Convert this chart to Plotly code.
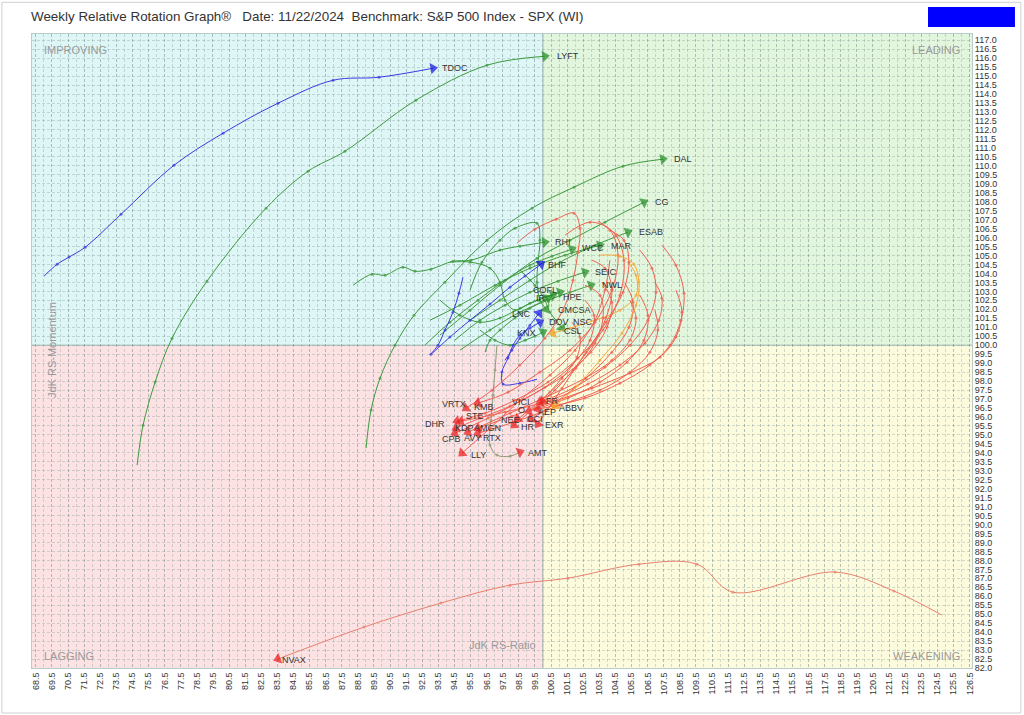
import plotly.graph_objects as go

# ---------------- data (JdK RS-Ratio, JdK RS-Momentum), oldest -> newest ----------------
TDOC_RATIO = [69.01, 69.82, 70.56, 71.56, 73.79, 77.08, 80.13, 83.54, 86.96, 89.82, 93.17]
TDOC_MOM = [103.85, 104.51, 104.91, 105.46, 107.30, 110.03, 111.82, 113.49, 114.77, 114.94, 115.44]

LYFT_RATIO = [74.79, 75.16, 75.91, 76.96, 79.13, 82.80, 85.41, 87.70, 92.11, 96.52, 100.12]
LYFT_MOM = [93.31, 95.54, 97.94, 100.39, 103.57, 107.64, 109.70, 110.81, 113.66, 115.61, 116.11]

DAL_RATIO = [89.01, 89.32, 89.88, 90.81, 91.99, 93.91, 96.52, 99.32, 101.93, 104.97, 107.45]
DAL_MOM = [94.26, 96.38, 98.16, 100.0, 101.67, 103.51, 105.85, 107.64, 108.81, 109.98, 110.37]

CG_RATIO = [93.60, 95.47, 97.33, 99.63, 101.68, 103.85, 106.27]
CG_MOM = [100.56, 101.95, 103.34, 104.85, 105.85, 106.86, 107.97]

ESAB_RATIO = [95.47, 97.33, 99.19, 101.06, 103.23, 105.28]
ESAB_MOM = [101.39, 102.51, 103.62, 104.63, 105.57, 106.30]

RHI_RATIO = [88.20, 89.38, 90.19, 91.30, 92.05, 93.04, 94.41, 95.53, 97.33, 98.57, 100.12]
RHI_MOM = [103.34, 103.96, 103.90, 104.35, 104.12, 104.24, 104.68, 104.74, 105.30, 105.52, 105.74]

WCC_RATIO = [92.67, 94.22, 95.96, 97.64, 99.19, 100.56, 101.80]
WCC_MOM = [100.0, 101.28, 102.51, 103.62, 104.46, 104.96, 105.35]

MAR_RATIO = [92.98, 94.84, 97.02, 99.19, 101.37, 103.54]
MAR_MOM = [101.39, 102.23, 103.34, 104.29, 105.02, 105.57]

BHF_RATIO = [95.03, 94.78, 94.41, 93.91, 93.48, 93.04, 94.22, 95.47, 96.71, 97.95, 98.88, 99.88]
BHF_MOM = [103.79, 102.90, 101.84, 100.84, 100.0, 99.50, 100.45, 101.39, 102.29, 103.23, 103.85, 104.52]

SEIC_RATIO = [94.53, 96.09, 97.64, 99.19, 100.93, 102.61]
SEIC_MOM = [100.28, 101.39, 102.23, 102.95, 103.57, 104.07]

NWL_RATIO = [94.84, 96.71, 98.57, 100.31, 101.68, 102.98]
NWL_MOM = [99.72, 100.84, 101.84, 102.51, 102.95, 103.34]

COFL_RATIO = [93.60, 94.84, 96.09, 97.33, 98.57, 99.69, 100.62]
COFL_MOM = [102.51, 101.67, 101.28, 101.51, 102.06, 102.51, 102.79]

IR_RATIO = [96.40, 96.71, 97.33, 98.26, 99.19, 100.31]
IR_MOM = [99.61, 100.28, 100.84, 101.51, 102.06, 102.62]

HPE_RATIO = [94.22, 95.47, 96.71, 97.33, 97.64, 98.26, 99.19, 100.12, 101.06]
HPE_MOM = [104.63, 104.63, 104.29, 103.51, 102.51, 101.95, 102.34, 102.68, 102.95]

CMCSA_RATIO = [95.47, 96.21, 97.33, 98.26, 99.63, 99.81, 99.69, 99.63, 99.81, 100.19]
CMCSA_MOM = [103.07, 104.63, 105.85, 106.52, 106.80, 105.85, 104.63, 103.51, 102.51, 102.01]

DOV_RATIO = [96.09, 97.02, 97.95, 98.88, 99.50, 100.0]
DOV_MOM = [100.84, 100.28, 100.0, 100.28, 100.50, 100.73]

CSL_RATIO = [98.57, 99.50, 100.12, 100.43, 100.81, 101.18]
CSL_MOM = [104.18, 103.34, 102.51, 101.84, 101.39, 100.95]

NSC_RATIO = [105.28, 105.78, 105.78, 104.78, 103.23, 101.68, 100.62]
NSC_MOM = [104.63, 103.90, 102.79, 101.95, 101.39, 100.95, 100.67]

LNC_RATIO = [97.64, 98.07, 98.57, 99.19, 99.75]
LNC_MOM = [99.16, 99.72, 100.39, 101.11, 101.78]

KNX_RATIO = [99.63, 98.57, 97.52, 97.45, 97.83, 98.14, 98.57, 99.19, 99.81]
KNX_MOM = [98.10, 97.88, 97.83, 98.50, 99.28, 100.0, 100.56, 100.95, 101.28]

VRTX_RATIO = [98.39, 99.50, 100.81, 101.93, 102.30, 102.17, 101.86, 101.24, 100.12, 98.57, 96.83, 95.22]
VRTX_MOM = [105.69, 106.47, 107.02, 107.36, 106.52, 105.18, 103.62, 101.95, 100.39, 98.89, 97.49, 96.49]

KMB_RATIO = [101.37, 102.92, 104.16, 104.66, 104.28, 103.23, 101.68, 99.81, 97.83, 95.96]
KMB_MOM = [106.13, 106.86, 106.41, 105.02, 103.07, 101.28, 99.72, 98.50, 97.38, 96.77]

DHR_RATIO = [103.42, 104.53, 105.03, 104.78, 103.73, 102.17, 100.31, 98.26, 96.40, 94.66]
DHR_MOM = [106.91, 106.13, 104.74, 102.79, 100.84, 99.28, 97.94, 96.93, 96.21, 95.76]

VICI_RATIO = [106.02, 106.77, 107.02, 106.52, 105.40, 103.85, 101.99, 99.81]
VICI_MOM = [105.30, 104.29, 102.95, 101.39, 100.0, 98.77, 97.66, 96.82]

FR_RATIO = [103.04, 103.85, 104.28, 103.91, 103.04, 101.86, 100.75, 100.0]
FR_MOM = [104.74, 104.29, 103.07, 101.51, 100.0, 98.61, 97.49, 96.88]

ABBV_RATIO = [103.54, 104.78, 105.65, 105.96, 105.78, 104.91, 103.54, 102.17, 100.75]
ABBV_MOM = [105.02, 104.96, 104.51, 103.51, 102.23, 100.67, 99.16, 97.77, 96.60]

O_RATIO = [106.02, 106.52, 106.27, 105.22, 103.54, 101.55, 99.13]
O_MOM = [102.79, 101.67, 100.28, 99.05, 97.94, 97.05, 96.32]

AEP_RATIO = [107.39, 108.26, 108.76, 108.57, 107.89, 106.64, 104.78, 102.61, 99.69]
AEP_MOM = [105.57, 104.46, 102.90, 101.39, 100.0, 98.89, 97.88, 97.05, 96.43]

STE_RATIO = [106.95, 107.39, 107.20, 106.33, 104.78, 102.79, 100.43, 97.64, 94.91]
STE_MOM = [103.51, 102.62, 101.39, 100.11, 98.89, 97.83, 96.93, 96.27, 95.76]

NEE_RATIO = [102.61, 103.54, 103.73, 103.23, 102.05, 100.43, 98.45]
NEE_MOM = [103.34, 102.79, 101.51, 100.11, 98.72, 97.38, 95.88]

CCI_RATIO = [105.09, 105.59, 105.34, 104.28, 102.67, 100.81, 99.25]
CCI_MOM = [103.46, 102.40, 101.0, 99.61, 98.16, 96.82, 95.88]

HR_RATIO = [101.80, 102.30, 102.11, 101.18, 99.81, 98.20]
HR_MOM = [101.28, 100.45, 99.33, 98.16, 96.82, 95.54]

EXR_RATIO = [104.16, 105.03, 105.34, 104.97, 103.91, 102.67, 101.18, 99.69]
EXR_MOM = [106.41, 105.85, 104.63, 102.95, 101.28, 99.61, 97.60, 95.60]

AMGN_RATIO = [108.26, 108.63, 108.26, 107.27, 105.40, 103.04, 100.56, 98.07, 95.96]
AMGN_MOM = [103.07, 101.84, 100.45, 99.33, 98.44, 97.60, 96.82, 96.04, 95.37]

KDP_RATIO = [102.61, 103.17, 102.92, 101.80, 100.12, 97.95, 96.09, 94.60]
KDP_MOM = [102.51, 101.67, 100.28, 98.89, 97.66, 96.60, 95.93, 95.37]

CPB_RATIO = [103.66, 104.28, 103.98, 102.98, 101.18, 98.82, 96.58, 94.53]
CPB_MOM = [103.51, 102.40, 101.0, 99.61, 98.22, 96.99, 95.93, 95.09]

AVY_RATIO = [105.40, 105.78, 105.40, 104.28, 102.61, 100.43, 97.95, 95.34]
AVY_MOM = [102.51, 101.51, 100.28, 99.16, 98.16, 97.21, 96.21, 95.15]

RTX_RATIO = [106.95, 107.14, 106.64, 105.40, 103.54, 101.06, 98.57, 95.96]
RTX_MOM = [101.95, 100.84, 99.61, 98.49, 97.49, 96.66, 95.82, 95.09]

LLY_RATIO = [104.16, 103.85, 103.23, 101.99, 100.43, 98.57, 96.71, 94.97]
LLY_MOM = [104.74, 103.07, 101.39, 99.72, 98.33, 96.93, 95.37, 93.98]

AMT_RATIO = [97.14, 97.02, 96.89, 96.77, 96.71, 97.14, 97.95, 98.57]
AMT_MOM = [100.0, 98.61, 97.21, 95.82, 94.43, 93.87, 93.81, 94.04]

NVAX_RATIO = [124.78, 121.80, 118.14, 111.80, 109.57, 105.96, 101.55, 97.95, 93.66, 88.88, 83.54]
NVAX_MOM = [84.95, 86.29, 87.35, 86.23, 87.79, 87.79, 87.01, 86.62, 85.62, 84.28, 82.50]

X_TICKS = [68.5 + i for i in range(59)]
Y_TICKS = [82.0 + 0.5 * i for i in range(71)]

# ---------------- styles ----------------
STYLE = {
    "green": ("#3d9a3d", "#1f8a1f"),
    "blue": ("#3a3ae0", "#1010e0"),
    "red": ("#f06050", "#e81818"),
    "orange": ("#f7a838", "#f59a10"),
    "olive": ("#8e9a78", "#e81818"),
    "salmon": ("#e8806e", "#e81818"),
}

# (label, ratio, momentum, style, label dx px, label dy px)
SERIES = [
    ("RHI", RHI_RATIO, RHI_MOM, "green", 18, 0),
    ("LYFT", LYFT_RATIO, LYFT_MOM, "green", 23, 0),
    ("DAL", DAL_RATIO, DAL_MOM, "green", 20, 0),
    ("CG", CG_RATIO, CG_MOM, "green", 18, 0),
    ("ESAB", ESAB_RATIO, ESAB_MOM, "green", 23, 0),
    ("WCC", WCC_RATIO, WCC_MOM, "green", 21, -1),
    ("MAR", MAR_RATIO, MAR_MOM, "green", 22, 1),
    ("SEIC", SEIC_RATIO, SEIC_MOM, "green", 21, 0),
    ("NWL", NWL_RATIO, NWL_MOM, "green", 21, 0),
    ("HPE", HPE_RATIO, HPE_MOM, "green", 12, 5),
    ("COFL", COFL_RATIO, COFL_MOM, "green", -8, -5),
    ("IR", IR_RATIO, IR_MOM, "green", -7, 0),
    ("CMCSA", CMCSA_RATIO, CMCSA_MOM, "green", 28, 1),
    ("DOV", DOV_RATIO, DOV_MOM, "green", 16, -10),
    ("CSL", CSL_RATIO, CSL_MOM, "green", 11, 3),
    ("NSC", NSC_RATIO, NSC_MOM, "orange", 30, -11),
    ("TDOC", TDOC_RATIO, TDOC_MOM, "blue", 22, 0),
    ("BHF", BHF_RATIO, BHF_MOM, "blue", 16, 1),
    ("LNC", LNC_RATIO, LNC_MOM, "blue", -17, 1),
    ("KNX", KNX_RATIO, KNX_MOM, "blue", -13, 11),
    ("AMT", AMT_RATIO, AMT_MOM, "olive", 18, 1),
    ("NVAX", NVAX_RATIO, NVAX_MOM, "salmon", 16, 1),
    ("LLY", LLY_RATIO, LLY_MOM, "red", 17, 2),
    ("VRTX", VRTX_RATIO, VRTX_MOM, "red", -12, -4),
    ("KMB", KMB_RATIO, KMB_MOM, "red", 6, 4),
    ("DHR", DHR_RATIO, DHR_MOM, "red", -22, 3),
    ("STE", STE_RATIO, STE_MOM, "red", 14, -5),
    ("KDP", KDP_RATIO, KDP_MOM, "red", 8, 0),
    ("AMGN", AMGN_RATIO, AMGN_MOM, "red", 10, 0),
    ("CPB", CPB_RATIO, CPB_MOM, "red", -3, 6),
    ("AVY", AVY_RATIO, AVY_MOM, "red", 5, 6),
    ("RTX", RTX_RATIO, RTX_MOM, "red", 14, 5),
    ("VICI", VICI_RATIO, VICI_MOM, "red", -19, 0),
    ("O", O_RATIO, O_MOM, "red", -7, -1),
    ("NEE", NEE_RATIO, NEE_MOM, "red", -8, 1),
    ("CCI", CCI_RATIO, CCI_MOM, "red", 4, 0),
    ("HR", HR_RATIO, HR_MOM, "red", 14, 2),
    ("EXR", EXR_RATIO, EXR_MOM, "red", 17, 1),
    ("FR", FR_RATIO, FR_MOM, "red", 9, 0),
    ("AEP", AEP_RATIO, AEP_MOM, "red", 9, 3),
    ("ABBV", ABBV_RATIO, ABBV_MOM, "orange", 16, 2),
]

fig = go.Figure()

for name, xs, ys, sty, dx, dy in SERIES:
    line_c, head_c = STYLE[sty]
    n = len(xs)
    fig.add_trace(go.Scatter(
        x=xs, y=ys, mode="lines+markers",
        line=dict(color=line_c, width=1, shape="spline", smoothing=1.0),
        marker=dict(
            symbol=["circle"] * (n - 1) + ["triangle-up"],
            size=[3] * (n - 1) + [10],
            color=[line_c] * (n - 1) + [head_c],
            angleref="previous",
            line=dict(width=0),
        ),
        showlegend=False, hoverinfo="skip",
    ))
    fig.add_annotation(
        x=xs[-1], y=ys[-1], text=name, showarrow=False,
        xshift=dx, yshift=-dy, xanchor="center", yanchor="middle",
        font=dict(family="Liberation Sans, Arial", size=9, color="#333333"),
    )

# quadrant backgrounds
XL, XR = 68.26, 126.65
YB, YT = 82.0, 117.35
quads = [
    (XL, 100, 100, YT, "#def6f6"),
    (100, XR, 100, YT, "#e2f5dd"),
    (XL, 100, YB, 100, "#fde2e4"),
    (100, XR, YB, 100, "#fcfbde"),
]
for x0, x1, y0, y1, c in quads:
    fig.add_shape(type="rect", xref="x", yref="y", x0=x0, x1=x1, y0=y0, y1=y1,
                  fillcolor=c, line=dict(width=0), layer="below")
fig.add_shape(type="line", xref="x", yref="y", x0=100, x1=100, y0=YB, y1=YT,
              line=dict(color="#9fb8b0", width=1), layer="below")
fig.add_shape(type="line", xref="x", yref="y", x0=XL, x1=XR, y0=100, y1=100,
              line=dict(color="#9fb8b0", width=1), layer="below")

# outer frame and blue box
fig.add_shape(type="rect", xref="paper", yref="paper", x0=-0.032, x1=1.052, y0=-0.071, y1=1.050,
              line=dict(color="#d0d0d0", width=1), fillcolor="rgba(0,0,0,0)")
fig.add_shape(type="rect", xref="paper", yref="paper", x0=0.9532, x1=1.0457, y0=1.0110, y1=1.0426,
              line=dict(width=0), fillcolor="#0000ff")

grey = "#9a9a9a"
fig.add_annotation(xref="paper", yref="paper", x=-0.003, y=1.027, xanchor="left", yanchor="middle",
                   text="Weekly Relative Rotation Graph®   Date: 11/22/2024  Benchmark: S&P 500 Index - SPX (WI)",
                   showarrow=False, font=dict(family="Liberation Sans, Arial", size=13.4, color="#333333"))
for txt, x, y, xa in [("IMPROVING", 0.0106, 0.975, "left"), ("LEADING", 0.9894, 0.975, "right"),
                      ("LAGGING", 0.0106, 0.019, "left"), ("WEAKENING", 0.9894, 0.019, "right")]:
    fig.add_annotation(xref="paper", yref="paper", x=x, y=y, xanchor=xa, yanchor="middle", text=txt,
                       showarrow=False, font=dict(family="Liberation Sans, Arial", size=11, color=grey))
fig.add_annotation(xref="paper", yref="paper", x=0.501, y=0.0237, text="JdK RS-Ratio", showarrow=False,
                   font=dict(family="Liberation Sans, Arial", size=11, color=grey))
fig.add_annotation(xref="paper", yref="paper", x=0.0128, y=0.5016, text="JdK RS-Momentum", showarrow=False,
                   textangle=-90, font=dict(family="Liberation Sans, Arial", size=11, color=grey))

GRID = "rgba(110,140,140,0.30)"
fig.update_layout(
    width=1024, height=715,
    margin=dict(l=32, r=52, t=34, b=47),
    paper_bgcolor="white", plot_bgcolor="white",
    font=dict(family="Liberation Sans, Arial", size=9, color="#333333"),
    xaxis=dict(range=[XL, XR], tickmode="array", tickvals=X_TICKS,
               ticktext=[f"{v:.1f}" for v in X_TICKS], tickangle=-90,
               tickfont=dict(size=9, color="#333333"),
               showgrid=True, gridcolor=GRID, griddash="3px,2px", gridwidth=1,
               minor=dict(dtick=0.5, tick0=68.5, showgrid=True, gridcolor=GRID,
                          griddash="3px,2px"),
               zeroline=False, showline=True, linecolor="#b8cccc", mirror=True, ticks=""),
    yaxis=dict(range=[YB, YT], side="right", tickmode="array", tickvals=Y_TICKS,
               ticktext=[f"{v:.1f}" for v in Y_TICKS], tickfont=dict(size=9, color="#333333"),
               showgrid=True, gridcolor=GRID, griddash="3px,2px", gridwidth=1,
               zeroline=False, showline=True, linecolor="#b8cccc", mirror=True, ticks=""),
)

fig.write_html("out.html")
